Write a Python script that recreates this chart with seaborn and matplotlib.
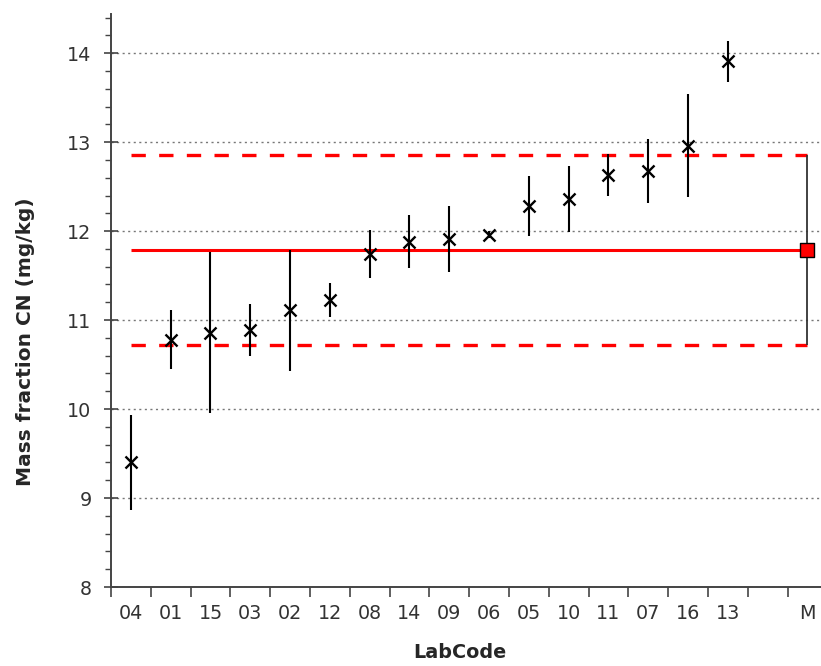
import numpy as np
import pandas as pd
import matplotlib
matplotlib.use("Agg")
import matplotlib.pyplot as plt
from matplotlib.ticker import MultipleLocator
import seaborn as sns

# lab results, sorted by value
lab_codes = ["04", "01", "15", "03", "02", "12", "08", "14", "09", "06",
             "05", "10", "11", "07", "16", "13"]
lab_values = [9.40, 10.78, 10.86, 10.89, 11.11, 11.23, 11.74, 11.88, 11.91, 11.96,
              12.28, 12.36, 12.63, 12.68, 12.96, 13.91]
lab_unc = [0.53, 0.33, 0.90, 0.29, 0.68, 0.19, 0.27, 0.30, 0.37, 0.04,
           0.34, 0.37, 0.24, 0.36, 0.58, 0.23]

# reference (M) value and its uncertainty
ref_label = "M"
ref_value = 11.79
ref_unc = 1.07

sns.set_style("white")
plt.rcParams["font.family"] = ["DejaVu Sans"]

df = pd.DataFrame({"LabCode": lab_codes, "value": lab_values, "unc": lab_unc})
df["pos"] = np.arange(len(df))
ref_pos = len(df) + 1  # one empty slot before M

fig = plt.figure(figsize=(8.21, 6.66), dpi=100)
ax = fig.add_axes([0.1352, 0.1186, 0.8648, 0.8604])

# grid
ax.set_axisbelow(True)
ax.yaxis.grid(True, which="major", linestyle=(0, (1.5, 2.5)), color="#777777", linewidth=1.0)

# reference lines
ax.hlines(ref_value, 0, ref_pos, color="red", linewidth=2.2, zorder=2)
ax.hlines([ref_value - ref_unc, ref_value + ref_unc], 0, ref_pos, color="red",
          linewidth=2.4, linestyles=[(0, (4.3, 4.0))], zorder=2)

# lab error bars
ax.vlines(df["pos"], df["value"] - df["unc"], df["value"] + df["unc"],
          color="black", linewidth=1.5, zorder=3)
sns.scatterplot(data=df, x="pos", y="value", marker="x", color="black",
                s=75, linewidth=1.7, ax=ax, zorder=4, legend=False)

# reference value
ax.vlines(ref_pos, ref_value - ref_unc, ref_value + ref_unc, color="#333333",
          linewidth=1.3, zorder=3)
ax.scatter([ref_pos], [ref_value], marker="s", s=90, color="red",
           edgecolor="black", linewidth=1.0, zorder=5)

ax.set_xlim(-0.5, 17.34)
ax.set_ylim(8, 14.44)

# x ticks: marks between slots, labels at slot centres
ax.set_xticks(np.arange(-0.5, ref_pos + 0.5, 1.0))
ax.set_xticklabels([])
ax.set_xticks(list(df["pos"]) + [ref_pos], minor=True)
ax.set_xticklabels(lab_codes + [ref_label], minor=True)
ax.tick_params(axis="x", which="major", direction="out", length=7, width=1.2,
               color="#444444", bottom=True)
ax.tick_params(axis="x", which="minor", length=0, labelsize=13.8, pad=12,
               labelcolor="#333333", bottom=True)

ax.yaxis.set_major_locator(MultipleLocator(1))
ax.yaxis.set_minor_locator(MultipleLocator(0.2))
ax.tick_params(axis="y", which="major", direction="inout", length=10, width=1.2,
               color="#444444", labelsize=13.8, labelcolor="#333333", pad=9, left=True)
ax.tick_params(axis="y", which="minor", direction="out", length=4, width=1.0,
               color="#444444", left=True)

for side in ["top", "right"]:
    ax.spines[side].set_visible(False)
for side in ["left", "bottom"]:
    ax.spines[side].set_color("#444444")
    ax.spines[side].set_linewidth(1.4)

ax.set_xlabel("LabCode", fontsize=13.8, fontweight="bold")
ax.set_ylabel("Mass fraction CN (mg/kg)", fontsize=14.5, fontweight="bold")
ax.xaxis.set_label_coords(0.4915, -0.098)
ax.yaxis.set_label_coords(-0.107, 0.4276)

fig.savefig("out.png", dpi=100)
